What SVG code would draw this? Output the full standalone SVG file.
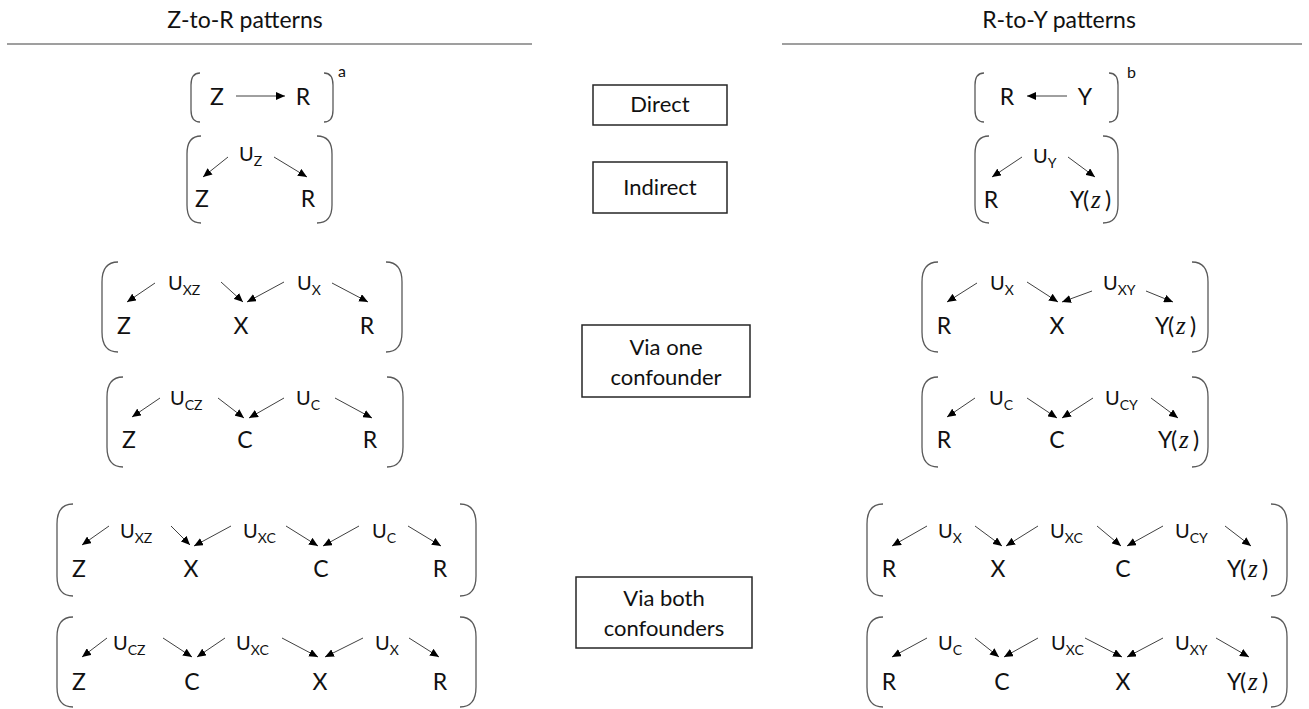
<svg xmlns="http://www.w3.org/2000/svg" width="1309" height="709" viewBox="0 0 1309 709">
<style>
.t{font-family:Lato,"Open Sans","Liberation Sans",sans-serif;fill:#111}
.title{font-size:23px}
.n{font-size:23px;text-anchor:middle}
.ny{font-size:23px}
.u{font-size:20px}
.s{font-size:14px}
.z{font-family:"Liberation Serif",serif;font-style:italic;font-size:25px}
.box{fill:#fff;stroke:#262626;stroke-width:1.5}
.br{fill:none;stroke:#595959;stroke-width:1.3}
.a{stroke:#404040;stroke-width:1;fill:none;marker-end:url(#ah)}
.rule{stroke:#404040;stroke-width:1.2}
.mid{font-size:22px;text-anchor:middle}
.sup{font-size:16px}
</style>
<defs>
<marker id="ah" markerUnits="userSpaceOnUse" markerWidth="9" markerHeight="8" refX="9" refY="4" orient="auto">
<path d="M0,0 L9,4 L0,8 z" fill="#000"/>
</marker>
</defs>
<rect width="1309" height="709" fill="#fff"/>

<g id="header-left">
<text class="t title" x="245" y="28" text-anchor="middle">Z-to-R patterns</text>
<line class="rule" x1="7" y1="44" x2="532" y2="44"/>
</g>
<g id="header-right">
<text class="t title" x="1059" y="28" text-anchor="middle">R-to-Y patterns</text>
<line class="rule" x1="782" y1="44" x2="1302" y2="44"/>
</g>

<g id="label-direct">
<rect class="box" x="593" y="85" width="134" height="40"/>
<text class="t mid" x="660" y="112">Direct</text>
</g>
<g id="label-indirect">
<rect class="box" x="593" y="162" width="134" height="51"/>
<text class="t mid" x="660" y="195">Indirect</text>
</g>
<g id="label-one">
<rect class="box" x="582" y="325" width="168" height="72"/>
<text class="t mid" x="666" y="355">Via one</text>
<text class="t mid" x="666" y="385">confounder</text>
</g>
<g id="label-both">
<rect class="box" x="576" y="577" width="176" height="71"/>
<text class="t mid" x="664" y="606">Via both</text>
<text class="t mid" x="664" y="636">confounders</text>
</g>

<!-- Left column -->
<g id="g1">
<path class="br" d="M200,73 Q191,73 191,85 L191,110 Q191,122 200,122"/>
<path class="br" d="M324,73 Q333,73 333,85 L333,110 Q333,122 324,122"/>
<text class="t n" x="217" y="105">Z</text>
<text class="t n" x="303" y="105">R</text>
<text class="t sup" x="338" y="77">a</text>
</g>
<g id="g2">
<path class="br" d="M201,136 Q187,136 187,154 L187,205 Q187,223 201,223"/>
<path class="br" d="M317,136 Q332,136 332,154 L332,205 Q332,223 317,223"/>
<text class="t u" x="239" y="161">U<tspan class="s" dy="5">Z</tspan></text>
<text class="t n" x="202" y="207">Z</text>
<text class="t n" x="308" y="207">R</text>
</g>
<g id="g3">
<path class="br" d="M118,262 Q102,262 102,282 L102,332 Q102,352 118,352"/>
<path class="br" d="M386,262 Q402,262 402,282 L402,332 Q402,352 386,352"/>
<text class="t u" x="168" y="290">U<tspan class="s" dy="5">XZ</tspan></text>
<text class="t u" x="297" y="290">U<tspan class="s" dy="5">X</tspan></text>
<text class="t n" x="124" y="334">Z</text>
<text class="t n" x="241" y="334">X</text>
<text class="t n" x="367" y="334">R</text>
</g>
<g id="g4">
<path class="br" d="M123,377 Q107,377 107,397 L107,447 Q107,467 123,467"/>
<path class="br" d="M387,377 Q403,377 403,397 L403,447 Q403,467 387,467"/>
<text class="t u" x="170" y="405">U<tspan class="s" dy="5">CZ</tspan></text>
<text class="t u" x="296" y="405">U<tspan class="s" dy="5">C</tspan></text>
<text class="t n" x="129" y="448">Z</text>
<text class="t n" x="245" y="448">C</text>
<text class="t n" x="370" y="448">R</text>
</g>
<g id="g5">
<path class="br" d="M73,504 Q57,504 57,524 L57,576 Q57,596 73,596"/>
<path class="br" d="M460,504 Q476,504 476,524 L476,576 Q476,596 460,596"/>
<text class="t u" x="120" y="538">U<tspan class="s" dy="5">XZ</tspan></text>
<text class="t u" x="243" y="538">U<tspan class="s" dy="5">XC</tspan></text>
<text class="t u" x="372" y="538">U<tspan class="s" dy="5">C</tspan></text>
<text class="t n" x="79" y="577">Z</text>
<text class="t n" x="191" y="577">X</text>
<text class="t n" x="321" y="577">C</text>
<text class="t n" x="440" y="577">R</text>
</g>
<g id="g6">
<path class="br" d="M73,617 Q57,617 57,637 L57,687 Q57,707 73,707"/>
<path class="br" d="M460,617 Q476,617 476,637 L476,687 Q476,707 460,707"/>
<text class="t u" x="113" y="650">U<tspan class="s" dy="5">CZ</tspan></text>
<text class="t u" x="236" y="650">U<tspan class="s" dy="5">XC</tspan></text>
<text class="t u" x="375" y="650">U<tspan class="s" dy="5">X</tspan></text>
<text class="t n" x="79" y="690">Z</text>
<text class="t n" x="192" y="690">C</text>
<text class="t n" x="320" y="690">X</text>
<text class="t n" x="440" y="690">R</text>
</g>

<!-- Right column -->
<g id="g7">
<path class="br" d="M984,73 Q975,73 975,85 L975,110 Q975,122 984,122"/>
<path class="br" d="M1109,73 Q1118,73 1118,85 L1118,110 Q1118,122 1109,122"/>
<text class="t n" x="1007" y="105">R</text>
<text class="t n" x="1085" y="105">Y</text>
<text class="t sup" x="1127" y="78">b</text>
</g>
<g id="g8">
<path class="br" d="M989,136 Q975,136 975,154 L975,205 Q975,223 989,223"/>
<path class="br" d="M1103,136 Q1118,136 1118,154 L1118,205 Q1118,223 1103,223"/>
<text class="t u" x="1033" y="163">U<tspan class="s" dy="5">Y</tspan></text>
<text class="t n" x="991" y="208">R</text>
<text class="t ny" y="208"><tspan x="1070">Y</tspan><tspan x="1083">(</tspan><tspan x="1091" class="z">z</tspan><tspan x="1105">)</tspan></text>
</g>
<g id="g9">
<path class="br" d="M938,262 Q922,262 922,282 L922,332 Q922,352 938,352"/>
<path class="br" d="M1192,262 Q1208,262 1208,282 L1208,332 Q1208,352 1192,352"/>
<text class="t u" x="990" y="290">U<tspan class="s" dy="5">X</tspan></text>
<text class="t u" x="1103" y="290">U<tspan class="s" dy="5">XY</tspan></text>
<text class="t n" x="944" y="334">R</text>
<text class="t n" x="1057" y="334">X</text>
<text class="t ny" y="334"><tspan x="1155">Y</tspan><tspan x="1168">(</tspan><tspan x="1176" class="z">z</tspan><tspan x="1190">)</tspan></text>
</g>
<g id="g10">
<path class="br" d="M938,377 Q922,377 922,397 L922,447 Q922,467 938,467"/>
<path class="br" d="M1192,377 Q1208,377 1208,397 L1208,447 Q1208,467 1192,467"/>
<text class="t u" x="989" y="405">U<tspan class="s" dy="5">C</tspan></text>
<text class="t u" x="1105" y="405">U<tspan class="s" dy="5">CY</tspan></text>
<text class="t n" x="944" y="448">R</text>
<text class="t n" x="1057" y="448">C</text>
<text class="t ny" y="448"><tspan x="1158">Y</tspan><tspan x="1171">(</tspan><tspan x="1179" class="z">z</tspan><tspan x="1193">)</tspan></text>
</g>
<g id="g11">
<path class="br" d="M883,504 Q867,504 867,524 L867,576 Q867,596 883,596"/>
<path class="br" d="M1271,504 Q1287,504 1287,524 L1287,576 Q1287,596 1271,596"/>
<text class="t u" x="938" y="538">U<tspan class="s" dy="5">X</tspan></text>
<text class="t u" x="1050" y="538">U<tspan class="s" dy="5">XC</tspan></text>
<text class="t u" x="1175" y="538">U<tspan class="s" dy="5">CY</tspan></text>
<text class="t n" x="889" y="577">R</text>
<text class="t n" x="998" y="577">X</text>
<text class="t n" x="1123" y="577">C</text>
<text class="t ny" y="577"><tspan x="1227">Y</tspan><tspan x="1240">(</tspan><tspan x="1248" class="z">z</tspan><tspan x="1262">)</tspan></text>
</g>
<g id="g12">
<path class="br" d="M883,617 Q867,617 867,637 L867,687 Q867,707 883,707"/>
<path class="br" d="M1271,617 Q1287,617 1287,637 L1287,687 Q1287,707 1271,707"/>
<text class="t u" x="938" y="650">U<tspan class="s" dy="5">C</tspan></text>
<text class="t u" x="1051" y="650">U<tspan class="s" dy="5">XC</tspan></text>
<text class="t u" x="1175" y="650">U<tspan class="s" dy="5">XY</tspan></text>
<text class="t n" x="889" y="690">R</text>
<text class="t n" x="1002" y="690">C</text>
<text class="t n" x="1123" y="690">X</text>
<text class="t ny" y="690"><tspan x="1227">Y</tspan><tspan x="1240">(</tspan><tspan x="1248" class="z">z</tspan><tspan x="1262">)</tspan></text>
</g>

<g id="connectors">
<line class="a" x1="236" y1="96" x2="285" y2="96"/>
<line class="a" x1="228" y1="157" x2="203" y2="177"/>
<line class="a" x1="274" y1="157" x2="307" y2="177"/>

<line class="a" x1="155" y1="283" x2="127" y2="302"/>
<line class="a" x1="221" y1="282" x2="243" y2="302"/>
<line class="a" x1="284" y1="282" x2="247" y2="302"/>
<line class="a" x1="332" y1="283" x2="368" y2="302"/>

<line class="a" x1="160" y1="398" x2="132" y2="417"/>
<line class="a" x1="218" y1="398" x2="244" y2="418"/>
<line class="a" x1="284" y1="398" x2="249" y2="418"/>
<line class="a" x1="335" y1="398" x2="372" y2="418"/>

<line class="a" x1="109" y1="526" x2="82" y2="545"/>
<line class="a" x1="171" y1="526" x2="190" y2="545"/>
<line class="a" x1="231" y1="526" x2="194" y2="546"/>
<line class="a" x1="286" y1="526" x2="318" y2="546"/>
<line class="a" x1="359" y1="526" x2="323" y2="546"/>
<line class="a" x1="408" y1="526" x2="441" y2="546"/>

<line class="a" x1="107" y1="638" x2="82" y2="657"/>
<line class="a" x1="163" y1="638" x2="192" y2="657"/>
<line class="a" x1="225" y1="638" x2="197" y2="657"/>
<line class="a" x1="282" y1="638" x2="318" y2="657"/>
<line class="a" x1="363" y1="638" x2="325" y2="657"/>
<line class="a" x1="409" y1="638" x2="439" y2="657"/>

<line class="a" x1="1067" y1="96" x2="1027" y2="96"/>
<line class="a" x1="1022" y1="157" x2="992" y2="177"/>
<line class="a" x1="1068" y1="157" x2="1095" y2="177"/>

<line class="a" x1="977" y1="283" x2="947" y2="302"/>
<line class="a" x1="1027" y1="282" x2="1058" y2="302"/>
<line class="a" x1="1092" y1="291" x2="1062" y2="302"/>
<line class="a" x1="1146" y1="291" x2="1173" y2="302"/>

<line class="a" x1="975" y1="398" x2="947" y2="417"/>
<line class="a" x1="1027" y1="398" x2="1057" y2="418"/>
<line class="a" x1="1093" y1="398" x2="1062" y2="418"/>
<line class="a" x1="1151" y1="398" x2="1178" y2="418"/>

<line class="a" x1="927" y1="526" x2="892" y2="546"/>
<line class="a" x1="975" y1="526" x2="1002" y2="546"/>
<line class="a" x1="1038" y1="526" x2="1006" y2="546"/>
<line class="a" x1="1097" y1="526" x2="1121" y2="546"/>
<line class="a" x1="1163" y1="526" x2="1127" y2="546"/>
<line class="a" x1="1225" y1="526" x2="1251" y2="546"/>

<line class="a" x1="927" y1="638" x2="892" y2="657"/>
<line class="a" x1="975" y1="638" x2="999" y2="657"/>
<line class="a" x1="1038" y1="638" x2="1004" y2="657"/>
<line class="a" x1="1085" y1="638" x2="1122" y2="657"/>
<line class="a" x1="1163" y1="638" x2="1127" y2="657"/>
<line class="a" x1="1216" y1="638" x2="1249" y2="657"/>
</g>
</svg>
